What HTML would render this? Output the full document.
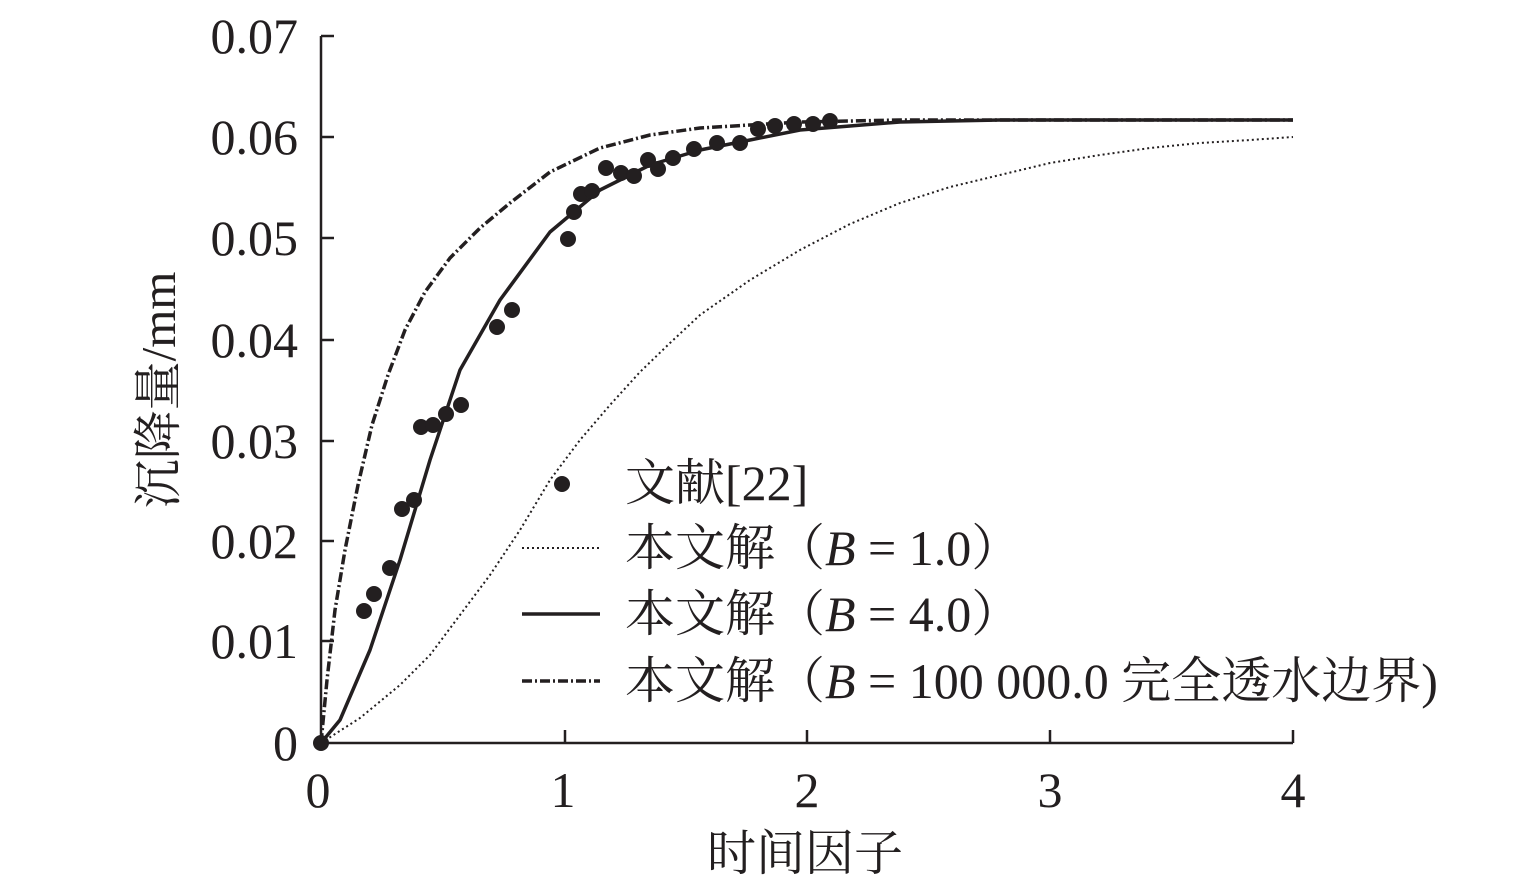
<!DOCTYPE html>
<html><head><meta charset="utf-8"><style>
html,body{margin:0;padding:0;background:#fff;}
svg text{font-family:"Liberation Serif","Noto Serif CJK SC","Noto Sans CJK SC",serif;fill:#231f20;}
</style></head><body>
<svg width="1535" height="886" viewBox="0 0 1535 886" xmlns="http://www.w3.org/2000/svg">
<g stroke="#231f20" stroke-width="2.5" fill="none">
<line x1="321" y1="36" x2="321" y2="743"/>
<line x1="321" y1="743" x2="1293" y2="743"/>
<line x1="321" y1="36" x2="334" y2="36"/>
<line x1="321" y1="137" x2="334" y2="137"/>
<line x1="321" y1="238" x2="334" y2="238"/>
<line x1="321" y1="340" x2="334" y2="340"/>
<line x1="321" y1="441" x2="334" y2="441"/>
<line x1="321" y1="541" x2="334" y2="541"/>
<line x1="321" y1="641" x2="334" y2="641"/>
<line x1="565" y1="743" x2="565" y2="730"/>
<line x1="807" y1="743" x2="807" y2="730"/>
<line x1="1050" y1="743" x2="1050" y2="730"/>
<line x1="1293" y1="743" x2="1293" y2="730"/>
</g>
<g font-size="50" text-anchor="end">
<text x="298" y="53">0.07</text>
<text x="298" y="154">0.06</text>
<text x="298" y="255">0.05</text>
<text x="298" y="357">0.04</text>
<text x="298" y="458">0.03</text>
<text x="298" y="558">0.02</text>
<text x="298" y="658">0.01</text>
<text x="298" y="760">0</text>
</g>
<g font-size="50" text-anchor="middle">
<text x="318" y="807">0</text>
<text x="563" y="807">1</text>
<text x="807" y="807">2</text>
<text x="1050" y="807">3</text>
<text x="1293" y="807">4</text>
<text x="805" y="870" font-size="49">时间因子</text>
<text transform="translate(175,390) rotate(-90)" font-size="49">沉降量/mm</text>
</g>
<g fill="none" stroke="#231f20" stroke-linejoin="round">
<polyline stroke-width="2" stroke-dasharray="2,3" points="321,743 360,718 400,685 430,655 460,615 490,575 520,530 550,480 580,440 610,405 640,372 670,343 700,315 750,280 800,250 850,224 900,203 950,187 1000,175 1050,163 1100,155 1150,148 1200,143 1250,140 1293,137"/>
<polyline stroke-width="3.5" points="321,743 340,720 370,650 400,560 430,460 460,370 500,300 550,232 600,190 650,165 700,150 750,140 800,130 900,122 1000,120 1293,120"/>
<polyline stroke-width="3.5" stroke-dasharray="10,3,2,3" points="321,743 327,680 335,610 345,550 358,485 372,425 388,375 405,330 425,292 450,258 480,228 510,203 550,172 600,148 650,135 700,128 750,125 800,122 900,120 1293,120"/>
</g>
<g fill="#231f20">
<circle cx="321" cy="743" r="8"/><circle cx="364" cy="611" r="8"/><circle cx="374" cy="594" r="8"/><circle cx="390" cy="568" r="8"/><circle cx="402" cy="509" r="8"/><circle cx="414" cy="500" r="8"/><circle cx="421" cy="427" r="8"/><circle cx="433" cy="425" r="8"/><circle cx="446" cy="414" r="8"/><circle cx="461" cy="405" r="8"/><circle cx="497" cy="327" r="8"/><circle cx="512" cy="310" r="8"/><circle cx="568" cy="239" r="8"/><circle cx="574" cy="212" r="8"/><circle cx="581" cy="194" r="8"/><circle cx="592" cy="191" r="8"/><circle cx="606" cy="168" r="8"/><circle cx="621" cy="173" r="8"/><circle cx="634" cy="176" r="8"/><circle cx="648" cy="160" r="8"/><circle cx="658" cy="169" r="8"/><circle cx="673" cy="158" r="8"/><circle cx="694" cy="149" r="8"/><circle cx="717" cy="143" r="8"/><circle cx="740" cy="143" r="8"/><circle cx="758" cy="129" r="8"/><circle cx="775" cy="126" r="8"/><circle cx="794" cy="124" r="8"/><circle cx="813" cy="124" r="8"/><circle cx="830" cy="121" r="8"/>
<circle cx="562" cy="484" r="8"/>
</g>
<g stroke="#231f20" fill="none">
<line x1="522" y1="548" x2="600" y2="548" stroke-width="2" stroke-dasharray="2,3"/>
<line x1="522" y1="614" x2="600" y2="614" stroke-width="3.5"/>
<line x1="522" y1="681" x2="600" y2="681" stroke-width="3.5" stroke-dasharray="10,3,2,3"/>
</g>
<g font-size="50">
<text x="625" y="500">文献[22]</text>
<text x="625" y="565">本文解（<tspan font-style="italic">B</tspan> = 1.0）</text>
<text x="625" y="631">本文解（<tspan font-style="italic">B</tspan> = 4.0）</text>
<text x="625" y="698">本文解（<tspan font-style="italic">B</tspan> = 100 000.0 完全透水边界)</text>
</g>
</svg>
</body></html>
